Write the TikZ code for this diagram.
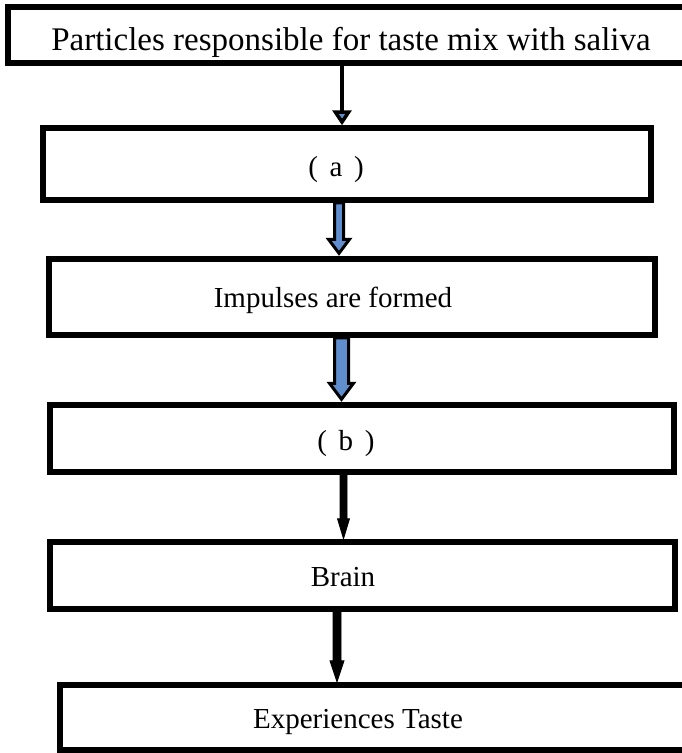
\documentclass[tikz,border=0pt]{standalone}
\usepackage{fontspec}
\setmainfont{Liberation Serif}
\usetikzlibrary{calc,arrows.meta}
\definecolor{myblue}{RGB}{96,141,205}
\newcommand\arrowpoly[8]{% style, from, to, x, shaft half, head half, head len, tip gap
  \draw[#1] let \p1=(#2.south -| #4), \p2=(#3.north -| #4) in
   (\x1-#5pt,\y1) -- (\x1-#5pt,\y2+#7pt+#8pt) -- (\x1-#6pt,\y2+#7pt+#8pt) -- (\x1,\y2+#8pt)
   -- (\x1+#6pt,\y2+#7pt+#8pt) -- (\x1+#5pt,\y2+#7pt+#8pt) -- (\x1+#5pt,\y1) -- cycle;}
\begin{document}
\begin{tikzpicture}[x=1pt,y=-1pt,
  box/.style 2 args={draw,line width=5.5pt,rectangle,inner sep=0pt,minimum width=#1pt,minimum height=#2pt},
  lbl/.style={inner sep=0pt,anchor=base,font=\fontsize{#1}{#1}\selectfont},
  fatarrow/.style={draw=black,fill=myblue,line width=3pt,line join=miter},
  slimarrow/.style={draw=black,fill=black,line width=0.8pt,line join=miter}]
\useasboundingbox (0,0) rectangle (681,753);
\fill[white] (0,0) rectangle (681,753);
\node[box={692}{56}] (b1) at (354,35) {};
\node[box={608}{72}] (b2) at (347,164) {};
\node[box={606}{76}] (b3) at (352,297) {};
\node[box={624}{67}] (b4) at (362,438.5) {};
\node[box={625}{67}] (b5) at (362.5,575.5) {};
\node[box={640}{65}] (b6) at (380,717.5) {};
\node[lbl=33] (t1) at (351,50) {Particles responsible for taste mix with saliva};
\node[lbl=29] (t2) at (336,176) {(\hspace{0.4em}a\hspace{0.4em})};
\node[lbl=29] (t3) at (333,307) {Impulses are formed};
\node[lbl=29] (t4) at (346,450) {(\hspace{0.4em}b\hspace{0.4em})};
\node[lbl=29] (t5) at (343,586) {Brain};
\node[lbl=29] (t6) at (358,728) {Experiences Taste};
\coordinate (x1) at (342,0);
\coordinate (x2) at (339,0);
\coordinate (x3) at (341.5,0);
\coordinate (x4) at (343.5,0);
\coordinate (x5) at (337,0);
\draw[line width=4pt,-{Triangle[length=15pt,width=19pt,fill=myblue,line width=3.5pt]}] (b1.south -| x1) -- (b2.north -| x1);
\arrowpoly{fatarrow}{b2}{b3}{x2}{4.5}{10.5}{14}{3}
\arrowpoly{fatarrow}{b3}{b4}{x3}{7}{12}{16}{3}
\arrowpoly{slimarrow}{b4}{b5}{x4}{3.5}{6}{20}{0.5}
\arrowpoly{slimarrow}{b5}{b6}{x5}{4}{7}{21}{0.5}
\end{tikzpicture}
\end{document}
